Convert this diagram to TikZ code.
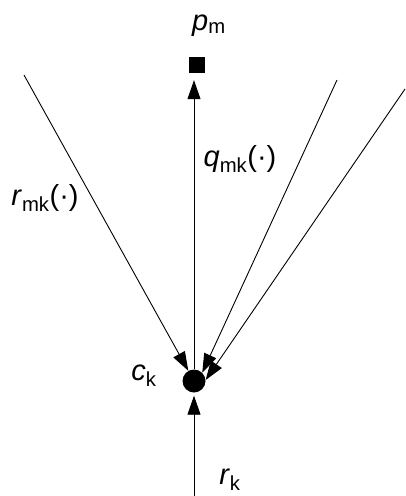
\documentclass[tikz,border=0pt]{standalone}
\usepackage{fontspec}
\setmainfont{Liberation Sans}
\usetikzlibrary{arrows.meta}
\tikzset{
  link/.style={-{Triangle[length=19pt,width=13pt]},line width=0.9pt},
  lbl/.style={anchor=base,inner sep=0pt,font=\fontsize{29}{33}\selectfont},
}
\newcommand{\symb}[2]{\textit{#1}\textsubscript{#2}}
\begin{document}
\begin{tikzpicture}[x=1pt,y=-1pt]
    \useasboundingbox (0,0) rectangle (405,496);
    % point and centre
    \node[circle,fill,inner sep=0pt,minimum size=23pt] (ck) at (194,381) {};
    \node[fill,inner sep=0pt,minimum size=16pt] (pm) at (197,65) {};
    % free ends of the links
    \coordinate (left) at (24,75);
    \coordinate (right) at (337,80);
    \coordinate (farright) at (405,89);
    \coordinate (bottom) at (194,496);
    \draw[link,shorten >=7pt] (ck) -- (ck |- pm.south);
    \draw[link] (left) -- (ck);
    \draw[link] (right) -- (ck.45);
    \draw[link] (farright) -- (ck.5);
    \draw[link,shorten >=3pt] (bottom) -- (ck);
    % labels
    \node[lbl] (lpm) at (209,30) {\symb{p}{m}};
    \node[lbl] (lqmk) at (240,166) {\symb{q}{mk}(·)};
    \node[lbl] (lrmk) at (45,205) {\symb{r}{mk}(·)};
    \node[lbl] (lck) at (144,380) {\symb{c}{k}};
    \node[lbl] (lrk) at (230,484) {\symb{r}{k}};
\end{tikzpicture}
\end{document}
